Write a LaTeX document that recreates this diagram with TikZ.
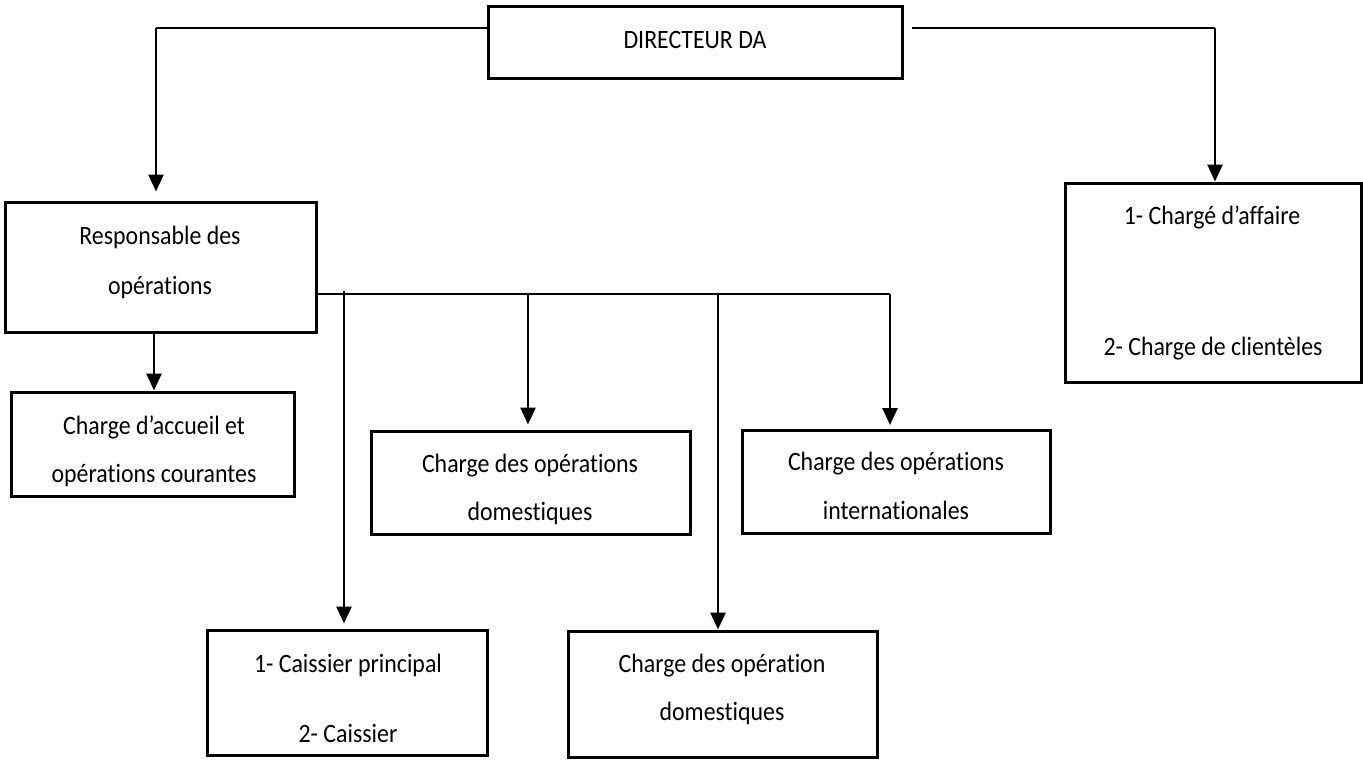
\documentclass[tikz,border=0pt]{standalone}
\usepackage{fontspec}
\setmainfont[FakeStretch=0.9,Ligatures=NoCommon]{Carlito}
\usetikzlibrary{arrows.meta}
\begin{document}
\begin{tikzpicture}[x=1pt,y=-1pt,
  box/.style={draw=black,line width=3pt,fill=white,inner sep=0pt},
  lbl/.style={font=\fontsize{26.5}{30}\selectfont,inner sep=0pt,text height=20pt,text depth=7pt,anchor=center},
  thinline/.style={draw=black,line width=1.7pt},
  arr/.style={draw=black,line width=2.8pt,-{Triangle[length=17pt,width=15pt]}}]
\useasboundingbox (0,0) rectangle (1363,760);
% boxes
\node[box,minimum width=414pt,minimum height=72pt] (dir) at (695,43) {};
\node[box,minimum width=311pt,minimum height=130pt] (resp) at (160.5,267) {};
\node[box,minimum width=296pt,minimum height=199pt] (chg) at (1213,282.5) {};
\node[box,minimum width=283pt,minimum height=104pt] (acc) at (153,444) {};
\node[box,minimum width=319pt,minimum height=103pt] (dom1) at (530.5,482.5) {};
\node[box,minimum width=308pt,minimum height=103pt] (intl) at (896,482) {};
\node[box,minimum width=280pt,minimum height=125pt] (cais) at (347,692.5) {};
\node[box,minimum width=309pt,minimum height=126pt] (dom2) at (722.5,694) {};
% texts
\node[lbl] (tdir) at (695,42) {DIRECTEUR DA};
\node[lbl] (tresp1) at (160,238) {Responsable des};
\node[lbl] (tresp2) at (160,288) {opérations};
\node[lbl] (tchg1) at (1212,218) {1- Chargé d’affaire};
\node[lbl] (tchg2) at (1213,349) {2- Charge de clientèles};
\node[lbl] (tacc1) at (154,428) {Charge d’accueil et};
\node[lbl] (tacc2) at (154,476) {opérations courantes};
\node[lbl] (tdom11) at (530,466) {Charge des opérations};
\node[lbl] (tdom12) at (530,514) {domestiques};
\node[lbl] (tintl1) at (896,464) {Charge des opérations};
\node[lbl] (tintl2) at (896,513) {internationales};
\node[lbl] (tcais1) at (348,666) {1- Caissier principal};
\node[lbl] (tcais2) at (348,736) {2- Caissier};
\node[lbl] (tdom21) at (722,666) {Charge des opération};
\node[lbl] (tdom22) at (722,714) {domestiques};
% coordinates
\coordinate (cl) at (156,28);
\coordinate (cr) at (1215,28);
\coordinate (hb) at (890,294);
\coordinate (b1) at (344,291);
\coordinate (b2) at (528,294);
\coordinate (b3) at (718,294);
% director connectors
\draw[thinline] ([yshift=15pt]dir.west) -- (cl);
\draw[arr] (cl) -- ([yshift=9pt]cl |- resp.north);
\draw[thinline] ([xshift=8pt,yshift=15pt]dir.east) -- (cr);
\draw[arr] (cr) -- (cr |- chg.north);
% responsible connectors
\draw[thinline] ([yshift=-27pt]resp.east) -- (hb);
\draw[arr] (154,0 |- resp.south) -- (154,0 |- acc.north);
\draw[arr] (b1) -- ([yshift=5pt]b1 |- cais.north);
\draw[arr] (b2) -- ([yshift=5pt]b2 |- dom1.north);
\draw[arr] (b3) -- (b3 |- dom2.north);
\draw[arr] (hb) -- ([yshift=4pt]hb |- intl.north);
\end{tikzpicture}
\end{document}
